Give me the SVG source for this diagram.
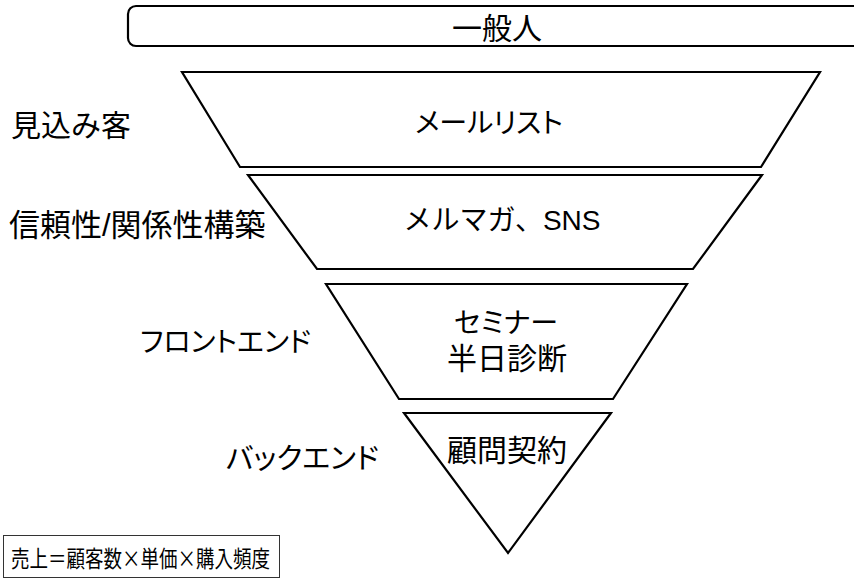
<svg xmlns="http://www.w3.org/2000/svg" width="854" height="582" viewBox="0 0 854 582">
<style>
.s{fill:#fff;stroke:#000;stroke-width:2.2;stroke-linejoin:miter}
.t{font-family:"Liberation Sans","Noto Sans CJK JP",sans-serif;font-size:30px;fill:#000}
.p{font-size:28px;font-feature-settings:"palt"}
.c{text-anchor:middle;dominant-baseline:central}
.l{dominant-baseline:central}
.f{font-family:"Noto Sans CJK JP",sans-serif;font-size:23px;fill:#000;dominant-baseline:central}
</style>
<rect width="854" height="582" fill="#fff"/>
<g id="ippanjin">
<rect class="s" x="128" y="6" width="760" height="40" rx="8"/>
<text class="t c" x="497" y="28">一般人</text>
</g>
<g id="mail-list">
<polygon class="s" points="182,72 820,72 761,167 240,167"/>
<text class="t p c" x="489" y="123">メールリスト</text>
</g>
<g id="mailmag">
<polygon class="s" points="248,175 762,175 693,269 317,269"/>
<text class="t c" x="502" y="220" style="font-size:28px">メルマガ、SNS</text>
</g>
<g id="seminar">
<polygon class="s" points="326,284 687,284 613,399 399,399"/>
<text class="t p c" x="506" y="323">セミナー</text>
<text class="t c" x="507" y="358">半日診断</text>
</g>
<g id="komon">
<polygon class="s" points="404,413 611,413 508,553"/>
<text class="t c" x="507" y="450">顧問契約</text>
</g>
<g id="labels">
<text class="t l" x="11" y="125">見込み客</text>
<text class="t l" x="9" y="225" style="font-size:31px">信頼性/関係性構築</text>
<text class="t p l" x="140" y="342">フロントエンド</text>
<text class="t p l" x="226" y="459" style="font-size:29px">バックエンド</text>
</g>
<g id="formula">
<rect x="3.5" y="535.5" width="276" height="42" fill="#fff" stroke="#333" stroke-width="1"/>
<text class="f" x="11" y="557" textLength="259" lengthAdjust="spacingAndGlyphs">売上＝顧客数×単価×購入頻度</text>
</g>
<g id="connectors"></g>
</svg>
